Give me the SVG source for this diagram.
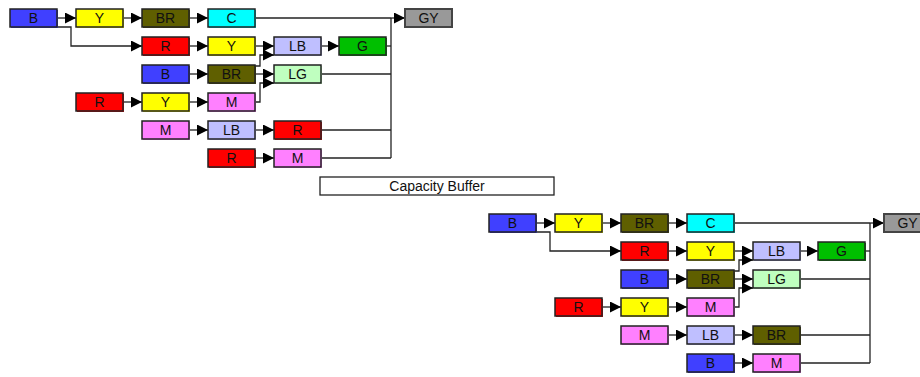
<svg xmlns="http://www.w3.org/2000/svg" width="920" height="377" viewBox="0 0 920 377">
<defs>
<style>
.n rect.s{stroke:none}
.n rect.b{stroke:#222;stroke-width:1.5}
.n text{font-family:"Liberation Sans",Arial,sans-serif;font-size:14px;fill:#111;text-anchor:middle}
.cB{fill:#4040ff}.cY{fill:#ffff00}.cBR{fill:#5f5f00}.cC{fill:#00ffff}.cR{fill:#ff0000}
.cLB{fill:#bfbfff}.cG{fill:#00bf00}.cLG{fill:#bfffbf}.cM{fill:#ff80ff}.cGY{fill:#999999}
.e path{fill:none;stroke:#222;stroke-width:1.3}
.a{marker-end:url(#ah)}
</style>
<marker id="ah" viewBox="0 0 11 11" refX="11" refY="5.5" markerWidth="11" markerHeight="11" markerUnits="userSpaceOnUse" orient="auto">
<path d="M0,0 L11,5.5 L0,11 Z" fill="#000"/>
</marker>
</defs>
<rect width="920" height="377" fill="#fff"/>

<g id="connectors" class="e">
<!-- top diagram -->
<path class="a" d="M57,18 H76"/>
<path class="a" d="M123,18 H142"/>
<path class="a" d="M189,18 H208"/>
<path d="M255,18 H391"/>
<path class="a" d="M391,18 H405"/>
<path d="M391,18 V158"/>
<path class="a" d="M57,27 H71 V46 H142"/>
<path class="a" d="M189,46 H208"/>
<path class="a" d="M255,46 H274"/>
<path class="a" d="M321,46 H339"/>
<path d="M386,46 H391"/>
<path class="a" d="M189,74 H208"/>
<path class="a" d="M255,74 H274"/>
<path class="a" d="M255,66 H260 V55 H274"/>
<path d="M321,74 H391"/>
<path class="a" d="M123,102 H142"/>
<path class="a" d="M189,102 H208"/>
<path class="a" d="M255,102 H260 V83 H274"/>
<path class="a" d="M189,130 H208"/>
<path class="a" d="M255,130 H274"/>
<path d="M321,130 H391"/>
<path class="a" d="M255,158 H274"/>
<path d="M321,158 H391"/>
<!-- bottom diagram -->
<g transform="translate(479,205)">
<path class="a" d="M57,18 H76"/>
<path class="a" d="M123,18 H142"/>
<path class="a" d="M189,18 H208"/>
<path d="M255,18 H391"/>
<path class="a" d="M391,18 H405"/>
<path d="M391,18 V158"/>
<path class="a" d="M57,27 H71 V46 H142"/>
<path class="a" d="M189,46 H208"/>
<path class="a" d="M255,46 H274"/>
<path class="a" d="M321,46 H339"/>
<path d="M386,46 H391"/>
<path class="a" d="M189,74 H208"/>
<path class="a" d="M255,74 H274"/>
<path class="a" d="M255,66 H260 V55 H274"/>
<path d="M321,74 H391"/>
<path class="a" d="M123,102 H142"/>
<path class="a" d="M189,102 H208"/>
<path class="a" d="M255,102 H260 V83 H274"/>
<path class="a" d="M189,130 H208"/>
<path class="a" d="M255,130 H274"/>
<path d="M321,130 H391"/>
<path class="a" d="M255,158 H274"/>
<path d="M321,158 H391"/>
</g>
</g>

<!-- top diagram nodes -->
<g id="t-r1-B" class="n"><rect class="s cB" x="11" y="10" width="47" height="18"/><rect class="b cB" x="10" y="9" width="47" height="18"/><text x="33.5" y="23">B</text></g>
<g id="t-r1-Y" class="n"><rect class="s cY" x="77" y="10" width="47" height="18"/><rect class="b cY" x="76" y="9" width="47" height="18"/><text x="99.5" y="23">Y</text></g>
<g id="t-r1-BR" class="n"><rect class="s cBR" x="143" y="10" width="47" height="18"/><rect class="b cBR" x="142" y="9" width="47" height="18"/><text x="165.5" y="23">BR</text></g>
<g id="t-r1-C" class="n"><rect class="s cC" x="209" y="10" width="47" height="18"/><rect class="b cC" x="208" y="9" width="47" height="18"/><text x="231.5" y="23">C</text></g>
<g id="t-r1-GY" class="n"><rect class="s cGY" x="406" y="10" width="47" height="18"/><rect class="b cGY" x="405" y="9" width="47" height="18" style="stroke:#444;stroke-width:2"/><text x="428.5" y="23">GY</text></g>

<g id="t-r2-R" class="n"><rect class="s cR" x="143" y="38" width="47" height="18"/><rect class="b cR" x="142" y="37" width="47" height="18"/><text x="165.5" y="51">R</text></g>
<g id="t-r2-Y" class="n"><rect class="s cY" x="209" y="38" width="47" height="18"/><rect class="b cY" x="208" y="37" width="47" height="18"/><text x="231.5" y="51">Y</text></g>
<g id="t-r2-LB" class="n"><rect class="s cLB" x="275" y="38" width="47" height="18"/><rect class="b cLB" x="274" y="37" width="47" height="18"/><text x="297.5" y="51">LB</text></g>
<g id="t-r2-G" class="n"><rect class="s cG" x="340" y="38" width="47" height="18"/><rect class="b cG" x="339" y="37" width="47" height="18"/><text x="362.5" y="51">G</text></g>

<g id="t-r3-B" class="n"><rect class="s cB" x="143" y="66" width="47" height="18"/><rect class="b cB" x="142" y="65" width="47" height="18"/><text x="165.5" y="79">B</text></g>
<g id="t-r3-BR" class="n"><rect class="s cBR" x="209" y="66" width="47" height="18"/><rect class="b cBR" x="208" y="65" width="47" height="18"/><text x="231.5" y="79">BR</text></g>
<g id="t-r3-LG" class="n"><rect class="s cLG" x="275" y="66" width="47" height="18"/><rect class="b cLG" x="274" y="65" width="47" height="18"/><text x="297.5" y="79">LG</text></g>

<g id="t-r4-R" class="n"><rect class="s cR" x="77" y="94" width="47" height="18"/><rect class="b cR" x="76" y="93" width="47" height="18"/><text x="99.5" y="107">R</text></g>
<g id="t-r4-Y" class="n"><rect class="s cY" x="143" y="94" width="47" height="18"/><rect class="b cY" x="142" y="93" width="47" height="18"/><text x="165.5" y="107">Y</text></g>
<g id="t-r4-M" class="n"><rect class="s cM" x="209" y="94" width="47" height="18"/><rect class="b cM" x="208" y="93" width="47" height="18"/><text x="231.5" y="107">M</text></g>

<g id="t-r5-M" class="n"><rect class="s cM" x="143" y="122" width="47" height="18"/><rect class="b cM" x="142" y="121" width="47" height="18"/><text x="165.5" y="135">M</text></g>
<g id="t-r5-LB" class="n"><rect class="s cLB" x="209" y="122" width="47" height="18"/><rect class="b cLB" x="208" y="121" width="47" height="18"/><text x="231.5" y="135">LB</text></g>
<g id="t-r5-R" class="n"><rect class="s cR" x="275" y="122" width="47" height="18"/><rect class="b cR" x="274" y="121" width="47" height="18"/><text x="297.5" y="135">R</text></g>

<g id="t-r6-R" class="n"><rect class="s cR" x="209" y="150" width="47" height="18"/><rect class="b cR" x="208" y="149" width="47" height="18"/><text x="231.5" y="163">R</text></g>
<g id="t-r6-M" class="n"><rect class="s cM" x="275" y="150" width="47" height="18"/><rect class="b cM" x="274" y="149" width="47" height="18"/><text x="297.5" y="163">M</text></g>

<g id="capacity-buffer" class="n"><rect x="320" y="177" width="234" height="18" fill="#fff" stroke="#222" stroke-width="1.3"/><text x="437" y="191">Capacity Buffer</text></g>

<!-- bottom diagram nodes -->
<g transform="translate(479,205)">
<g id="b-r1-B" class="n"><rect class="s cB" x="11" y="10" width="47" height="18"/><rect class="b cB" x="10" y="9" width="47" height="18"/><text x="33.5" y="23">B</text></g>
<g id="b-r1-Y" class="n"><rect class="s cY" x="77" y="10" width="47" height="18"/><rect class="b cY" x="76" y="9" width="47" height="18"/><text x="99.5" y="23">Y</text></g>
<g id="b-r1-BR" class="n"><rect class="s cBR" x="143" y="10" width="47" height="18"/><rect class="b cBR" x="142" y="9" width="47" height="18"/><text x="165.5" y="23">BR</text></g>
<g id="b-r1-C" class="n"><rect class="s cC" x="209" y="10" width="47" height="18"/><rect class="b cC" x="208" y="9" width="47" height="18"/><text x="231.5" y="23">C</text></g>
<g id="b-r1-GY" class="n"><rect class="s cGY" x="406" y="10" width="47" height="18"/><rect class="b cGY" x="405" y="9" width="47" height="18" style="stroke:#444;stroke-width:2"/><text x="428.5" y="23">GY</text></g>

<g id="b-r2-R" class="n"><rect class="s cR" x="143" y="38" width="47" height="18"/><rect class="b cR" x="142" y="37" width="47" height="18"/><text x="165.5" y="51">R</text></g>
<g id="b-r2-Y" class="n"><rect class="s cY" x="209" y="38" width="47" height="18"/><rect class="b cY" x="208" y="37" width="47" height="18"/><text x="231.5" y="51">Y</text></g>
<g id="b-r2-LB" class="n"><rect class="s cLB" x="275" y="38" width="47" height="18"/><rect class="b cLB" x="274" y="37" width="47" height="18"/><text x="297.5" y="51">LB</text></g>
<g id="b-r2-G" class="n"><rect class="s cG" x="340" y="38" width="47" height="18"/><rect class="b cG" x="339" y="37" width="47" height="18"/><text x="362.5" y="51">G</text></g>

<g id="b-r3-B" class="n"><rect class="s cB" x="143" y="66" width="47" height="18"/><rect class="b cB" x="142" y="65" width="47" height="18"/><text x="165.5" y="79">B</text></g>
<g id="b-r3-BR" class="n"><rect class="s cBR" x="209" y="66" width="47" height="18"/><rect class="b cBR" x="208" y="65" width="47" height="18"/><text x="231.5" y="79">BR</text></g>
<g id="b-r3-LG" class="n"><rect class="s cLG" x="275" y="66" width="47" height="18"/><rect class="b cLG" x="274" y="65" width="47" height="18"/><text x="297.5" y="79">LG</text></g>

<g id="b-r4-R" class="n"><rect class="s cR" x="77" y="94" width="47" height="18"/><rect class="b cR" x="76" y="93" width="47" height="18"/><text x="99.5" y="107">R</text></g>
<g id="b-r4-Y" class="n"><rect class="s cY" x="143" y="94" width="47" height="18"/><rect class="b cY" x="142" y="93" width="47" height="18"/><text x="165.5" y="107">Y</text></g>
<g id="b-r4-M" class="n"><rect class="s cM" x="209" y="94" width="47" height="18"/><rect class="b cM" x="208" y="93" width="47" height="18"/><text x="231.5" y="107">M</text></g>

<g id="b-r5-M" class="n"><rect class="s cM" x="143" y="122" width="47" height="18"/><rect class="b cM" x="142" y="121" width="47" height="18"/><text x="165.5" y="135">M</text></g>
<g id="b-r5-LB" class="n"><rect class="s cLB" x="209" y="122" width="47" height="18"/><rect class="b cLB" x="208" y="121" width="47" height="18"/><text x="231.5" y="135">LB</text></g>
<g id="b-r5-BR" class="n"><rect class="s cBR" x="275" y="122" width="47" height="18"/><rect class="b cBR" x="274" y="121" width="47" height="18"/><text x="297.5" y="135">BR</text></g>

<g id="b-r6-B" class="n"><rect class="s cB" x="209" y="150" width="47" height="18"/><rect class="b cB" x="208" y="149" width="47" height="18"/><text x="231.5" y="163">B</text></g>
<g id="b-r6-M" class="n"><rect class="s cM" x="275" y="150" width="47" height="18"/><rect class="b cM" x="274" y="149" width="47" height="18"/><text x="297.5" y="163">M</text></g>
</g>
</svg>
